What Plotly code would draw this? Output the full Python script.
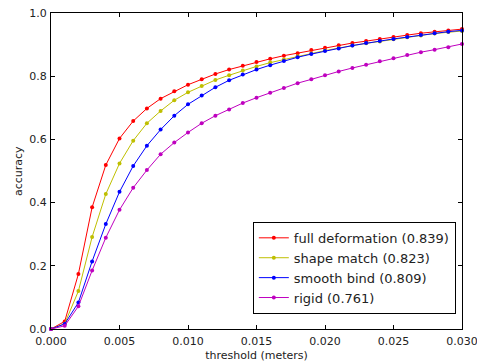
import plotly.graph_objects as go

thresholds = [i * 0.001 for i in range(31)]

full_deformation = [0.000, 0.024, 0.174, 0.385, 0.519, 0.603, 0.658, 0.698, 0.729, 0.752,
                    0.773, 0.790, 0.807, 0.821, 0.833, 0.845, 0.855, 0.865, 0.873, 0.883,
                    0.890, 0.898, 0.905, 0.911, 0.918, 0.924, 0.930, 0.936, 0.941, 0.945, 0.949]
shape_match = [0.000, 0.017, 0.120, 0.291, 0.427, 0.524, 0.596, 0.651, 0.690, 0.724,
               0.749, 0.769, 0.788, 0.803, 0.818, 0.831, 0.843, 0.853, 0.863, 0.872,
               0.881, 0.889, 0.897, 0.904, 0.910, 0.917, 0.923, 0.929, 0.935, 0.940, 0.943]
smooth_bind = [0.000, 0.016, 0.084, 0.214, 0.332, 0.434, 0.516, 0.580, 0.631, 0.675,
               0.711, 0.739, 0.765, 0.787, 0.805, 0.821, 0.835, 0.848, 0.860, 0.870,
               0.880, 0.888, 0.897, 0.905, 0.911, 0.918, 0.924, 0.930, 0.936, 0.941, 0.945]
rigid = [0.000, 0.010, 0.072, 0.185, 0.289, 0.377, 0.447, 0.503, 0.553, 0.590,
         0.622, 0.651, 0.675, 0.695, 0.715, 0.732, 0.748, 0.763, 0.778, 0.790,
         0.803, 0.815, 0.826, 0.836, 0.847, 0.857, 0.867, 0.876, 0.884, 0.892, 0.902]

series_names = ["full deformation (0.839)", "shape match (0.823)",
                "smooth bind (0.809)", "rigid (0.761)"]
series_values = [full_deformation, shape_match, smooth_bind, rigid]
colors = ["#ff0000", "#bfbf00", "#0000ff", "#bf00bf"]

x_tickvals = [0.000, 0.005, 0.010, 0.015, 0.020, 0.025, 0.030]
x_ticktext = ["0.000", "0.005", "0.010", "0.015", "0.020", "0.025", "0.030"]
y_tickvals = [0.0, 0.2, 0.4, 0.6, 0.8, 1.0]
y_ticktext = ["0.0", "0.2", "0.4", "0.6", "0.8", "1.0"]

fig = go.Figure()
for name, vals, c in zip(series_names, series_values, colors):
    fig.add_trace(go.Scatter(
        x=thresholds, y=vals, name=name, mode="lines+markers",
        line=dict(color=c, width=1),
        marker=dict(color=c, size=4, symbol="circle"),
        cliponaxis=False,
    ))

axis_common = dict(
    showline=True, linecolor="black", linewidth=1, mirror="ticks",
    ticks="inside", ticklen=4, tickcolor="black", showgrid=False, zeroline=False,
    automargin=False, ticklabeloverflow="allow",
    tickfont=dict(family="DejaVu Sans", size=11, color="#222222"),
)

fig.update_layout(
    width=477, height=362,
    margin=dict(l=51, r=15, t=13, b=33),
    paper_bgcolor="white", plot_bgcolor="white",
    font=dict(family="DejaVu Sans", size=11, color="black"),
    xaxis=dict(range=[0, 0.030], tickmode="array", tickvals=x_tickvals, ticktext=x_ticktext,
               ticklabelstandoff=2,
               title=dict(text="threshold (meters)", font=dict(size=11, color="#222222")),
               **axis_common),
    yaxis=dict(range=[0, 1.0], tickmode="array", tickvals=y_tickvals, ticktext=y_ticktext,
               ticklabelstandoff=1,
               **axis_common),
    legend=dict(x=0.985, y=0.339, xanchor="right", yanchor="top",
                bordercolor="black", borderwidth=1, bgcolor="white",
                font=dict(family="DejaVu Sans", size=13, color="#222222"), tracegroupgap=0,
                itemwidth=30),
    showlegend=True,
    annotations=[dict(text="accuracy", xref="paper", yref="paper", x=-0.0803, y=0.5,
                      xanchor="center", yanchor="middle", textangle=-90, showarrow=False,
                      font=dict(family="DejaVu Sans", size=11, color="#222222"))],
)

fig.write_html("out.html", config={"displayModeBar": False},
               post_script="document.body.style.margin='0';")
